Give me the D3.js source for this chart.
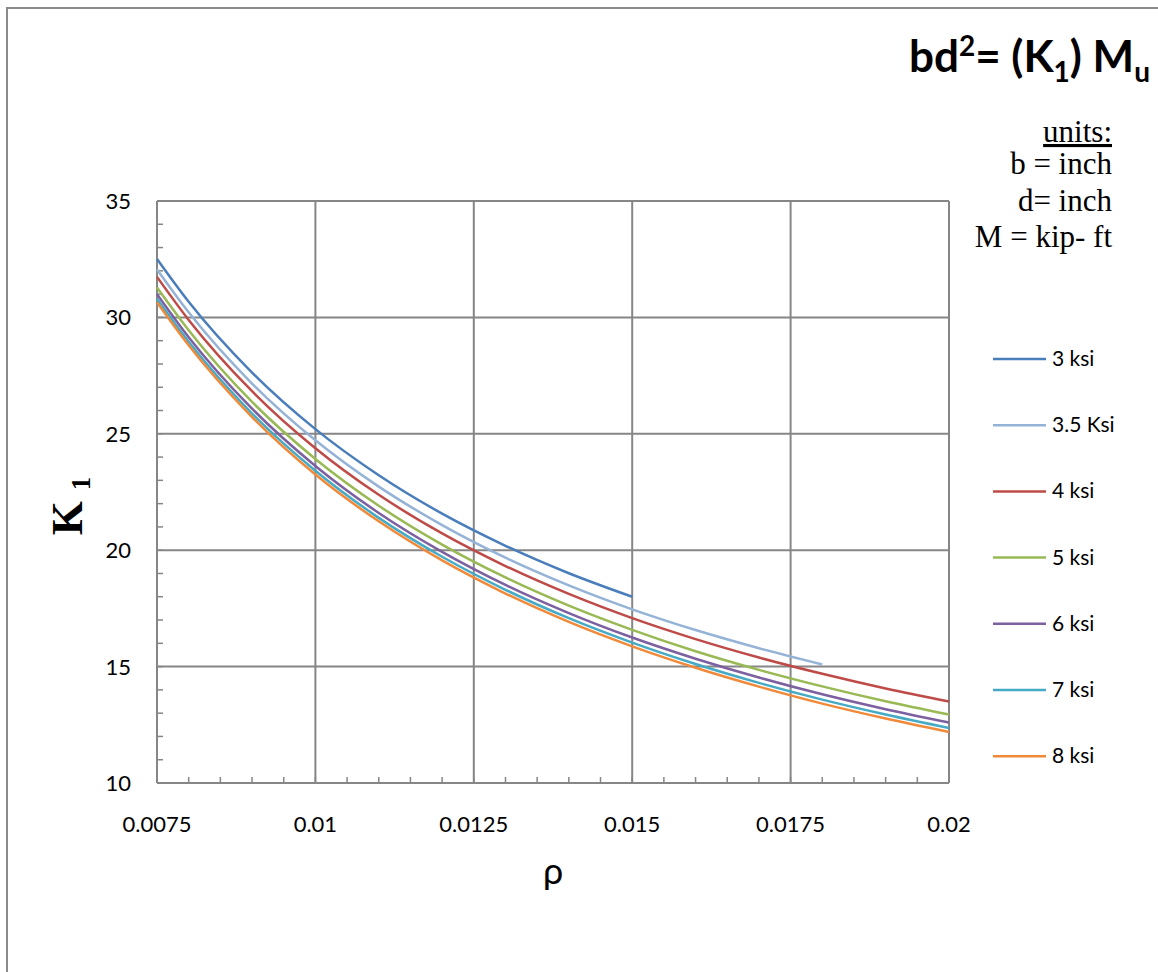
<!DOCTYPE html>
<html>
<head>
<meta charset="utf-8">
<script src="https://cdn.jsdelivr.net/npm/d3@7"></script>
<style>
  body { margin: 0; background: #fff; }
  svg { display: block; }
</style>
</head>
<body>
<svg id="chart" width="1158" height="972"></svg>
<script>
// reinforcement ratio values (x)
const rho = [0.0075, 0.008, 0.009, 0.010, 0.011, 0.012, 0.013, 0.014, 0.015, 0.016, 0.017, 0.018, 0.019, 0.020];

// K1 readings per concrete strength
const k3 = [32.51, 30.67, 27.63, 25.20, 23.22, 21.57, 20.19, 19.01, 18.00];
const k35 = [32.06, 30.22, 27.16, 24.72, 22.73, 21.08, 19.68, 18.49, 17.46, 16.57, 15.79, 15.09];
const k4 = [31.74, 29.89, 26.83, 24.38, 22.38, 20.72, 19.32, 18.12, 17.08, 16.18, 15.39, 14.69, 14.06, 13.50];
const k5 = [31.29, 29.45, 26.37, 23.92, 21.91, 20.24, 18.83, 17.62, 16.58, 15.66, 14.86, 14.15, 13.51, 12.94];
const k6 = [31.00, 29.15, 26.08, 23.62, 21.60, 19.93, 18.51, 17.30, 16.25, 15.34, 14.53, 13.81, 13.17, 12.60];
const k7 = [30.80, 28.95, 25.87, 23.41, 21.39, 19.72, 18.30, 17.08, 16.03, 15.11, 14.30, 13.58, 12.94, 12.36];
const k8 = [30.65, 28.80, 25.72, 23.25, 21.24, 19.56, 18.14, 16.92, 15.87, 14.95, 14.14, 13.41, 12.77, 12.19];

const seriesNames = ['3 ksi', '3.5 Ksi', '4 ksi', '5 ksi', '6 ksi', '7 ksi', '8 ksi'];
const seriesValues = [k3, k35, k4, k5, k6, k7, k8];
const seriesColors = ['#4a7ebb', '#95b3d7', '#be4b48', '#98b954', '#7d60a0', '#46aac5', '#f08a3a'];

const xTicks = [0.0075, 0.01, 0.0125, 0.015, 0.0175, 0.02];
const xTickLabels = ['0.0075', '0.01', '0.0125', '0.015', '0.0175', '0.02'];
const yTicks = [10, 15, 20, 25, 30, 35];
const unitLines = ['b = inch', 'd= inch', 'M = kip- ft'];

const svg = d3.select('#chart');
const sans = 'Lato, "Open Sans", sans-serif';
const serif = '"Liberation Serif", "Times New Roman", serif';
const gridColor = '#868686';

const margin = { left: 157, right: 209, top: 201, bottom: 189 };
const width = 1158 - margin.left - margin.right;
const height = 972 - margin.top - margin.bottom;

// outer chart border (runs off the right/bottom edge)
svg.append('rect')
  .attr('x', 7).attr('y', 8)
  .attr('width', 1300).attr('height', 1100)
  .attr('fill', 'none')
  .attr('stroke', '#8a8a8a')
  .attr('stroke-width', 2);

const x = d3.scaleLinear().domain([0.0075, 0.02]).range([0, width]);
const y = d3.scaleLinear().domain([10, 35]).range([height, 0]);

const g = svg.append('g')
  .attr('transform', `translate(${margin.left},${margin.top})`);

// major gridlines
g.append('g')
  .selectAll('line.vgrid')
  .data(xTicks)
  .join('line')
  .attr('class', 'vgrid')
  .attr('x1', d => x(d)).attr('x2', d => x(d))
  .attr('y1', 0).attr('y2', height)
  .attr('stroke', gridColor).attr('stroke-width', 2);

g.append('g')
  .selectAll('line.hgrid')
  .data(yTicks)
  .join('line')
  .attr('class', 'hgrid')
  .attr('x1', 0).attr('x2', width)
  .attr('y1', d => y(d)).attr('y2', d => y(d))
  .attr('stroke', gridColor).attr('stroke-width', 2);

// minor ticks, drawn inward like Excel
const xMinor = d3.range(0, 26).map(i => 0.0075 + i * 0.0005);
const yMinor = d3.range(10, 36);

g.append('g')
  .selectAll('line')
  .data(xMinor)
  .join('line')
  .attr('x1', d => x(d)).attr('x2', d => x(d))
  .attr('y1', height).attr('y2', height - 6)
  .attr('stroke', gridColor).attr('stroke-width', 1.5);

g.append('g')
  .selectAll('line')
  .data(yMinor)
  .join('line')
  .attr('x1', 0).attr('x2', 6)
  .attr('y1', d => y(d)).attr('y2', d => y(d))
  .attr('stroke', gridColor).attr('stroke-width', 1.5);

// tick labels
g.append('g')
  .selectAll('text')
  .data(xTicks)
  .join('text')
  .attr('x', d => x(d))
  .attr('y', height + 49)
  .attr('text-anchor', 'middle')
  .style('font-family', sans)
  .style('font-size', '22px')
  .style('fill', '#000')
  .text((d, i) => xTickLabels[i]);

g.append('g')
  .selectAll('text')
  .data(yTicks)
  .join('text')
  .attr('x', -26)
  .attr('y', d => y(d) + 8)
  .attr('text-anchor', 'end')
  .style('font-family', sans)
  .style('font-size', '22px')
  .style('fill', '#000')
  .text(d => d);

// series lines
const line = d3.line()
  .x((d, i) => x(rho[i]))
  .y(d => y(d))
  .curve(d3.curveMonotoneX);

g.append('g')
  .selectAll('path')
  .data(seriesValues)
  .join('path')
  .attr('fill', 'none')
  .attr('stroke', (d, i) => seriesColors[i])
  .attr('stroke-width', 2.5)
  .attr('d', line);

// axis titles
svg.append('text')
  .attr('x', 553)
  .attr('y', 884)
  .attr('text-anchor', 'middle')
  .style('font-family', sans)
  .style('font-size', '36px')
  .text('ρ');

const yTitle = svg.append('text')
  .attr('transform', 'translate(82,506) rotate(-90)')
  .attr('text-anchor', 'middle')
  .style('font-family', serif)
  .style('font-weight', 'bold')
  .style('font-size', '44px');
yTitle.append('tspan').text('K ');
yTitle.append('tspan')
  .attr('dy', 8)
  .style('font-size', '27px')
  .text('1');

// formula title
const title = svg.append('text')
  .attr('x', 1150)
  .attr('y', 72)
  .attr('text-anchor', 'end')
  .style('font-family', sans)
  .style('font-weight', 'bold')
  .style('font-size', '44px');
title.append('tspan').text('bd');
title.append('tspan').attr('dy', -16).style('font-size', '28px').text('2');
title.append('tspan').attr('dy', 16).text('= (K');
title.append('tspan').attr('dy', 10).style('font-size', '28px').text('1');
title.append('tspan').attr('dy', -10).text(') M');
title.append('tspan').attr('dy', 10).style('font-size', '28px').text('u');

// units note
svg.append('text')
  .attr('x', 1112)
  .attr('y', 142)
  .attr('text-anchor', 'end')
  .style('font-family', serif)
  .style('font-size', '31px')
  .style('text-decoration', 'underline')
  .text('units:');

svg.append('g')
  .selectAll('text')
  .data(unitLines)
  .join('text')
  .attr('x', 1112)
  .attr('y', (d, i) => 174 + i * 36.5)
  .attr('text-anchor', 'end')
  .style('font-family', serif)
  .style('font-size', '31px')
  .text(d => d);

// legend
const legend = svg.append('g')
  .attr('class', 'legend')
  .attr('transform', 'translate(993,359)');

legend.selectAll('g.legend-item')
  .data(seriesNames)
  .join('g')
  .attr('class', 'legend-item')
  .attr('transform', (d, i) => `translate(0,${i * 66.2})`)
  .each(function(name, i) {
    const item = d3.select(this);
    item.append('line')
      .attr('x1', 0).attr('x2', 53)
      .attr('y1', 0).attr('y2', 0)
      .attr('stroke', seriesColors[i])
      .attr('stroke-width', 2.5);
    item.append('text')
      .attr('x', 59)
      .attr('y', 7)
      .style('font-family', sans)
      .style('font-size', '21px')
      .style('fill', '#000')
      .text(name);
  });
</script>
</body>
</html>
